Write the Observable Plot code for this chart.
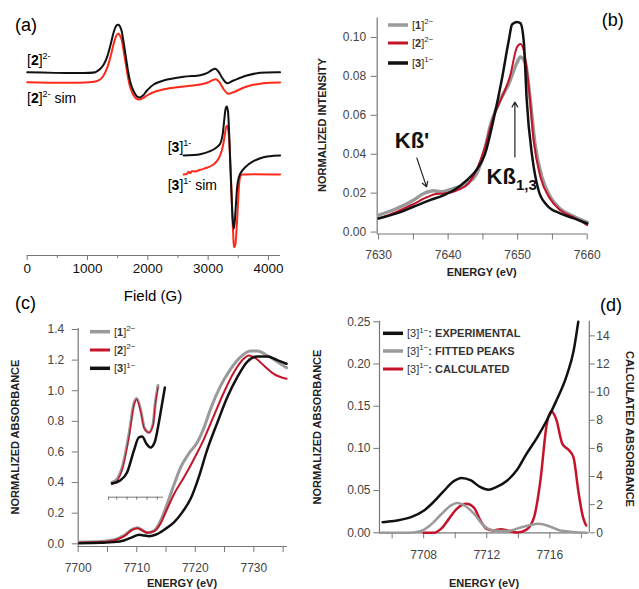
<!DOCTYPE html>
<html><head><meta charset="utf-8">
<script src="https://cdn.jsdelivr.net/npm/d3@7"></script>
<script src="https://cdn.jsdelivr.net/npm/@observablehq/plot@0.6"></script>
<style>
body{margin:0;background:#fff;}
#fig{position:relative;width:639px;height:589px;overflow:hidden;background:#fff;}
.panel{position:absolute;}
.panel svg{overflow:visible;}
</style></head><body><div id="fig"></div>
<script>
// ---------- (a) EPR ----------
const eprTicks = [0, 1000, 2000, 3000, 4000];
const eprMinor = [500, 1500, 2500, 3500];
const epr2Field = [0, 1131, 1159, 1214, 1269, 1324, 1379, 1434, 1479, 1517, 1556, 1589, 1628, 1666, 1710, 1765, 1821, 1865, 1920, 1986, 2096, 2262, 2593, 2869, 2979, 3050, 3117, 3170, 3240, 3310, 3420, 3641, 3862, 4193];
const epr2Exp = [183.3, 183.3, 184.3, 186.7, 191, 198.3, 210, 223.3, 230, 230.7, 226.7, 216.7, 201.7, 186.7, 173.3, 164.3, 159, 158, 160, 165, 171, 175, 178.7, 180.3, 182.3, 185, 186.7, 184, 177, 172.3, 175, 180, 182.7, 183.3];
const epr2SimField = [0, 1131, 1214, 1269, 1324, 1379, 1434, 1479, 1512, 1556, 1589, 1628, 1666, 1710, 1765, 1821, 1865, 1920, 1986, 2096, 2317, 2593, 2869, 3007, 3080, 3130, 3190, 3260, 3330, 3420, 3641, 3917, 4193];
const epr2Sim = [173.3, 174, 176.3, 180.3, 187.3, 198.3, 211.7, 220, 221.7, 217.7, 208.3, 194, 180, 167.7, 160, 156.3, 156, 157.3, 160, 163.3, 166.7, 169, 171, 173.3, 175.5, 176.3, 173, 166, 161.7, 163.3, 169, 172.3, 173];
const epr3Field = [2593, 2869, 3034, 3145, 3200, 3238, 3266, 3293, 3310, 3327, 3349, 3365, 3387, 3409, 3426, 3443, 3465, 3492, 3531, 3614, 3752, 3917, 4083, 4193];
const epr3Exp = [100, 101.3, 104.3, 108.3, 111.7, 120, 135, 147.3, 149, 145, 121.7, 95, 61.7, 35, 26.7, 35, 55, 73.3, 81.7, 88.3, 94.3, 98.3, 99.7, 100];
const epr3SimField = [2593, 2648, 2676, 2703, 2731, 2786, 2869, 2979, 3090, 3172, 3227, 3271, 3299, 3316, 3338, 3365, 3393, 3415, 3432, 3448, 3470, 3498, 3520, 3542, 3586, 4193];
const epr3Sim = [81, 81.7, 83.7, 82.3, 84.3, 84, 85.7, 87.7, 91, 96.7, 105, 118.3, 128.3, 129.7, 123.3, 98.3, 55, 21.7, 8.3, 10, 25, 55, 75, 80.3, 81, 81];
const eprLabelField = [5, 5, 2338, 2338];
const eprLabelSignal = [190, 152, 103, 65];

// ---------- (b) K-beta XES ----------
const kbTicks = [7630, 7635, 7640, 7645, 7650, 7655, 7660];
const kbYTicks = [0, 0.02, 0.04, 0.06, 0.08, 0.10];
const kbE1 = [7630, 7632.6, 7635, 7636.5, 7637.9, 7638.9, 7640.8, 7642.7, 7644.1, 7645.1, 7646.1, 7647.5, 7648.7, 7649.9, 7650.4, 7651.1, 7651.8, 7652.5, 7653.5, 7654.7, 7656.1, 7658.1, 7660];
const kb1 = [0.0087, 0.0121, 0.0164, 0.0198, 0.0212, 0.0207, 0.0224, 0.025, 0.030, 0.040, 0.055, 0.068, 0.076, 0.087, 0.090, 0.087, 0.068, 0.045, 0.028, 0.018, 0.012, 0.008, 0.005];
const kbE2 = [7630, 7632.6, 7635, 7637, 7638.2, 7639.4, 7641.3, 7643, 7644.1, 7645.3, 7646.5, 7647.7, 7648.9, 7649.9, 7650.4, 7650.9, 7651.6, 7652.3, 7653.3, 7654.5, 7656.1, 7658.1, 7660];
const kb2 = [0.007, 0.0104, 0.0144, 0.018, 0.0195, 0.0198, 0.0215, 0.0253, 0.032, 0.0438, 0.059, 0.069, 0.080, 0.095, 0.0966, 0.093, 0.0745, 0.047, 0.028, 0.018, 0.0113, 0.0075, 0.0036];
const kbE3 = [7630, 7632.6, 7635, 7637.4, 7639.4, 7640.8, 7642.7, 7644.1, 7645.3, 7646.5, 7647.7, 7648.7, 7649.2, 7649.9, 7650.4, 7650.9, 7651.3, 7652.1, 7653.0, 7654.2, 7656.1, 7658.1, 7660];
const kb3 = [0.007, 0.0096, 0.013, 0.0164, 0.019, 0.0215, 0.0267, 0.032, 0.040, 0.0574, 0.078, 0.098, 0.1067, 0.108, 0.1073, 0.097, 0.068, 0.0386, 0.0215, 0.0138, 0.0096, 0.007, 0.0044];
const kbArrowX1 = [7635.5, 7649.6], kbArrowY1 = [0.038, 0.0386];
const kbArrowX2 = [7636.9, 7649.6], kbArrowY2 = [0.0232, 0.0668];
const kbNoteX = [7632.4, 7645.6], kbNoteY = [0.0431, 0.0246];

// ---------- (c) XAS ----------
const xasTicks = [7700, 7705, 7710, 7715, 7720, 7725, 7730, 7735];
const xasYTicks = [0, 0.2, 0.4, 0.6, 0.8, 1.0, 1.2, 1.4];
const xasE1 = [7700.2, 7703.9, 7706.1, 7707.8, 7709.3, 7710.1, 7711, 7711.8, 7713, 7714.1, 7715.2, 7716.4, 7717.5, 7718.9, 7720.3, 7721.5, 7722.6, 7724.3, 7726.0, 7727.7, 7729.4, 7730.6, 7732.3, 7734, 7735.6];
const xas1 = [0.011, 0.015, 0.026, 0.054, 0.096, 0.105, 0.087, 0.072, 0.087, 0.153, 0.26, 0.39, 0.50, 0.59, 0.66, 0.76, 0.88, 1.03, 1.14, 1.22, 1.26, 1.26, 1.23, 1.19, 1.15];
const xasE2 = [7700.2, 7703.9, 7706.1, 7707.8, 7709.3, 7710.1, 7711, 7711.8, 7713, 7714.1, 7715.2, 7716.4, 7718.1, 7719.8, 7721.5, 7723.2, 7724.9, 7726.6, 7728.3, 7729.1, 7730, 7731.7, 7733.4, 7735.6];
const xas2 = [0.007, 0.011, 0.022, 0.048, 0.092, 0.102, 0.087, 0.072, 0.083, 0.135, 0.229, 0.327, 0.436, 0.556, 0.686, 0.839, 0.99, 1.12, 1.21, 1.23, 1.22, 1.165, 1.11, 1.078];
const xasE3 = [7700.2, 7703.9, 7706.1, 7707.8, 7709.3, 7710.4, 7711.3, 7712.1, 7713.2, 7714.7, 7716.4, 7717.8, 7719.2, 7720.6, 7722, 7723.8, 7725.5, 7727.2, 7728.9, 7730.6, 7732.3, 7734, 7735.6];
const xas3 = [0.004, 0.0065, 0.011, 0.022, 0.044, 0.059, 0.054, 0.050, 0.059, 0.092, 0.142, 0.207, 0.294, 0.436, 0.61, 0.795, 0.96, 1.09, 1.19, 1.224, 1.224, 1.20, 1.176];
// inset (pre-edge, magnified)
const insetTicks = [7706, 7707.2, 7708.7, 7710.1, 7711.6, 7713.1];
const insetE1 = [7706.5, 7707.3, 7708.0, 7709.0, 7709.7, 7710.1, 7710.7, 7711.2, 7711.9, 7712.5, 7712.8, 7713.2];
const inset1 = [0.016, 0.020, 0.031, 0.065, 0.095, 0.100, 0.088, 0.071, 0.066, 0.075, 0.095, 0.113];
const inset2 = [0.014, 0.018, 0.029, 0.062, 0.093, 0.099, 0.086, 0.070, 0.066, 0.074, 0.093, 0.111];
const insetE3 = [7706.5, 7707.7, 7708.7, 7709.7, 7710.4, 7710.9, 7711.5, 7712.1, 7712.7, 7713.3, 7713.8, 7714.2];
const inset3 = [0.015, 0.018, 0.026, 0.048, 0.061, 0.062, 0.055, 0.051, 0.056, 0.075, 0.095, 0.111];

// ---------- (d) pre-edge fit ----------
const dTicks = [7706, 7708, 7710, 7712, 7714, 7716, 7718];
const dTickLabels = [7708, 7712, 7716];
const dYTicks = [0, 0.05, 0.10, 0.15, 0.20, 0.25];
const dRightTicks = [0, 2, 4, 6, 8, 10, 12, 14];
const dRightRatio = 60; // right axis units per left axis unit
const expE = [7705.4, 7706.3, 7707.2, 7708, 7708.6, 7709.3, 7709.9, 7710.4, 7711.0, 7711.6, 7712.1, 7712.6, 7713.3, 7713.9, 7714.5, 7715.2, 7715.8, 7716.4, 7717.1, 7717.5, 7717.8];
const expAbs = [0.0126, 0.0146, 0.0185, 0.026, 0.036, 0.050, 0.061, 0.065, 0.062, 0.054, 0.051, 0.054, 0.062, 0.074, 0.093, 0.113, 0.133, 0.156, 0.188, 0.215, 0.25];
const fitE = [7705.2, 7707.0, 7707.8, 7708.4, 7709.1, 7709.7, 7710.1, 7710.5, 7711.2, 7711.8, 7712.4, 7713.3, 7714.1, 7714.8, 7715.3, 7716.0, 7716.6, 7717.5, 7718.3];
const fitAbs = [0, 0, 0.002, 0.0087, 0.0217, 0.032, 0.0354, 0.0335, 0.0224, 0.0087, 0.003, 0.002, 0.006, 0.0094, 0.0106, 0.0075, 0.003, 0.001, 0];
const calcE = [7708.0, 7708.6, 7709.1, 7709.6, 7710.1, 7710.7, 7711.2, 7711.6, 7712.0, 7712.4, 7712.9, 7713.3, 7713.9, 7714.5, 7715.0, 7715.4, 7715.8, 7716.1, 7716.4, 7716.8, 7717.2, 7717.5, 7717.8, 7718.1, 7718.3];
const calcAbs = [0, 0, 0.28, 0.99, 1.70, 2.06, 1.77, 0.87, 0.28, 0.17, 0.26, 0.17, 0.02, 0.21, 1.11, 3.71, 7.7, 8.62, 8.08, 6.3, 5.88, 5.36, 3.0, 1.11, 0.52];

// ---------- helpers ----------
const FONT = "'Liberation Sans', Arial, Helvetica, sans-serif";
const GRAY = "#9a9a9a", RED = "#c3142a", BLACK = "#111", EPRRED = "#ff2a1a";
const zip = (xs, ys) => xs.map((x, i) => ({x, y: ys[i]}));
const STYLE = `background:transparent;overflow:visible;font-family:${FONT};`;
const fig = document.getElementById("fig");
function mount(svg, left, top, w, h) {
  const d = document.createElement("div");
  d.className = "panel";
  Object.assign(d.style, {left: left + "px", top: top + "px", width: w + "px", height: h + "px"});
  d.appendChild(svg); fig.appendChild(d);
}
function label(svg, x, y, parts, o = {}) {
  const size = o.size || 11;
  const t = d3.select(svg).append("text")
    .attr("transform", `translate(${x},${y})` + (o.rotate ? ` rotate(${o.rotate})` : ""))
    .attr("font-family", FONT).attr("font-size", size)
    .attr("font-weight", o.weight || "normal")
    .attr("fill", o.fill || "#000")
    .attr("text-anchor", o.anchor || "start");
  let shift = 0;
  for (const p of parts) {
    const q = typeof p === "string" ? {t: p} : p;
    const s = t.append("tspan").text(q.t);
    const target = q.sup ? -size * 0.42 : q.sub ? size * 0.28 : 0;
    if (target !== shift) { s.attr("dy", target - shift); shift = target; }
    if (q.sup || q.sub) s.attr("font-size", q.size || Math.round(size * 0.68));
    if (q.b) s.attr("font-weight", "bold");
    if (q.n) s.attr("font-weight", "normal");
  }
  return t;
}
function legend(svg, x, ys, items, o) {
  items.forEach((it, i) => {
    d3.select(svg).append("line").attr("x1", x).attr("x2", x + 20)
      .attr("y1", ys[i]).attr("y2", ys[i]).attr("stroke", it.color).attr("stroke-width", it.w || 3);
    label(svg, x + 24, ys[i] + 4, it.parts, o);
  });
}
const line = (xs, ys, stroke, w, curve = "monotone-x") =>
  Plot.line(zip(xs, ys), {x: "x", y: "y", stroke, strokeWidth: w, curve});

// ---------- panel (a) ----------
const pa = Plot.plot({
  width: 310, height: 305, marginLeft: 26.7, marginRight: 30, marginTop: 0, marginBottom: 50,
  style: STYLE,
  x: {domain: [0, 4200]},
  y: {domain: [0, 255], axis: null},
  marks: [
    Plot.ruleY([0], {stroke: "#777", strokeWidth: 1.2}),
    Plot.axisX(eprMinor, {tickSize: 3, tickFormat: () => "", label: null, stroke: "#777"}),
    Plot.axisX(eprTicks, {tickSize: 5, tickPadding: 3, fontSize: 13.5, label: null, stroke: "#777", fill: "#111", tickFormat: d => String(d)}),
    line(epr2SimField, epr2Sim, EPRRED, 2, "catmull-rom"),
    line(epr2Field, epr2Exp, BLACK, 2, "catmull-rom"),
    line(epr3SimField, epr3Sim, EPRRED, 2, "catmull-rom"),
    line(epr3Field, epr3Exp, BLACK, 2, "catmull-rom")
  ]
});
mount(pa, 0, 0, 310, 305);
{
  const sx = pa.scale("x"), sy = pa.scale("y");
  const P = i => [sx.apply(eprLabelField[i]), sy.apply(eprLabelSignal[i])];
  label(pa, ...P(0), ["[", {t: "2", b: true}, "]", {t: "2-", sup: true, size: 9}], {size: 14});
  label(pa, ...P(1), ["[", {t: "2", b: true}, "]", {t: "2-", sup: true, size: 9}, {t: " sim"}], {size: 14});
  label(pa, ...P(2), ["[", {t: "3", b: true}, "]", {t: "1-", sup: true, size: 9}], {size: 14});
  label(pa, ...P(3), ["[", {t: "3", b: true}, "]", {t: "1-", sup: true, size: 9}, {t: " sim"}], {size: 14});
  label(pa, 153, 301, ["Field (G)"], {size: 15, anchor: "middle"});
  label(pa, 15, 31, ["(a)"], {size: 18});
}

// ---------- panel (b) ----------
const pb = Plot.plot({
  width: 329, height: 290, marginLeft: 66.7, marginRight: 52.3, marginTop: 17.5, marginBottom: 56.5,
  style: STYLE,
  x: {domain: [7629.8, 7660]},
  y: {domain: [-0.001, 0.11]},
  marks: [
    Plot.ruleX([7629.8], {stroke: "#777", strokeWidth: 1.2}),
    Plot.ruleY([-0.001], {stroke: "#777", strokeWidth: 1.2}),
    Plot.axisX(kbTicks, {tickSize: 6, tickPadding: 10, fontSize: 12, label: null, stroke: "#777", fill: "#444",
      tickFormat: d => d % 10 === 0 ? String(d) : ""}),
    Plot.axisY(kbYTicks, {tickSize: 6, tickPadding: 5, fontSize: 12, label: null, stroke: "#777", fill: "#444", tickFormat: d3.format(".2f")}),
    line(kbE1, kb1, GRAY, 3.5),
    line(kbE2, kb2, RED, 2),
    line(kbE3, kb3, BLACK, 2.5),
    Plot.arrow(kbArrowX1.map((x, i) => ({x1: x, y1: kbArrowY1[i], x2: kbArrowX2[i], y2: kbArrowY2[i]})),
      {x1: "x1", y1: "y1", x2: "x2", y2: "y2", stroke: "#222", strokeWidth: 1.2, headLength: 7})
  ]
});
mount(pb, 310, 0, 329, 290);
{
  const sx = pb.scale("x"), sy = pb.scale("y");
  legend(pb, 78, [25, 43, 63], [
    {color: GRAY, w: 3.5, parts: ["[", {t: "1", b: true}, "]", {t: "2−", sup: true, size: 8}]},
    {color: RED, w: 3, parts: ["[", {t: "2", b: true}, "]", {t: "2−", sup: true, size: 8}]},
    {color: BLACK, w: 3.5, parts: ["[", {t: "3", b: true}, "]", {t: "1−", sup: true, size: 8}]}
  ], {size: 11, fill: "#333"});
  label(pb, sx.apply(kbNoteX[0]), sy.apply(kbNoteY[0]), ["Kß'"], {size: 22, weight: "bold", fill: "#111"});
  label(pb, sx.apply(kbNoteX[1]), sy.apply(kbNoteY[1]), ["Kß", {t: "1,3", sub: true, size: 15}], {size: 22, weight: "bold", fill: "#111"});
  label(pb, 171.7, 276, ["ENERGY (eV)"], {size: 11, weight: "bold", anchor: "middle", fill: "#222"});
  label(pb, 16, 125, ["NORMALIZED INTENSITY"], {size: 11, weight: "bold", anchor: "middle", rotate: -90, fill: "#222"});
  label(pb, 291.7, 26, ["(b)"], {size: 18});
}

// ---------- panel (c) ----------
const pc = Plot.plot({
  width: 310, height: 299, marginLeft: 77.7, marginRight: 23.3, marginTop: 38, marginBottom: 43,
  style: STYLE,
  x: {domain: [7700, 7735.7]},
  y: {domain: [-0.0176, 1.4065]},
  marks: [
    Plot.ruleX([7700], {stroke: "#777", strokeWidth: 1.2}),
    Plot.ruleY([-0.0176], {stroke: "#777", strokeWidth: 1.2}),
    Plot.axisX(xasTicks, {tickSize: 6, tickPadding: 11, fontSize: 12, label: null, stroke: "#777", fill: "#444",
      tickFormat: d => d % 10 === 0 ? String(d) : ""}),
    Plot.axisY(xasYTicks, {tickSize: 6, tickPadding: 8, fontSize: 12, label: null, stroke: "#777", fill: "#444", tickFormat: d3.format(".1f")}),
    line(xasE1, xas1, GRAY, 3),
    line(xasE2, xas2, RED, 2),
    line(xasE3, xas3, BLACK, 2.5)
  ]
});
mount(pc, 0, 290, 310, 299);
{
  legend(pc, 90, [41.7, 60, 78.3], [
    {color: GRAY, w: 3.5, parts: ["[", {t: "1", b: true}, "]", {t: "2−", sup: true, size: 8}]},
    {color: RED, w: 3, parts: ["[", {t: "2", b: true}, "]", {t: "2−", sup: true, size: 8}]},
    {color: BLACK, w: 3.5, parts: ["[", {t: "3", b: true}, "]", {t: "1−", sup: true, size: 8}]}
  ], {size: 11, fill: "#333"});
  label(pc, 182, 297, ["ENERGY (eV)"], {size: 11, weight: "bold", anchor: "middle", fill: "#222"});
  label(pc, 19, 147, ["NORMALIZED ABSORBANCE"], {size: 11, weight: "bold", anchor: "middle", rotate: -90, fill: "#222"});
  label(pc, 15, 19, ["(c)"], {size: 18});
}
// inset
const pci = Plot.plot({
  width: 310, height: 299, marginLeft: 108, marginRight: 147, marginTop: 78.7, marginBottom: 92.3,
  style: STYLE,
  x: {domain: [7706, 7714]},
  y: {domain: [0.0013, 0.1293], axis: null},
  marks: [
    Plot.ruleY([0.0013], {stroke: "#777", strokeWidth: 1}),
    Plot.axisX(insetTicks, {tickSize: 3, tickFormat: () => "", label: null, stroke: "#777"}),
    line(insetE1, inset1, GRAY, 3),
    line(insetE1, inset2, RED, 1.3),
    line(insetE3, inset3, BLACK, 2.5)
  ]
});
mount(pci, 0, 290, 310, 299);

// ---------- panel (d) ----------
const pd = Plot.plot({
  width: 334, height: 299, marginLeft: 74, marginRight: 50.2, marginTop: 30.7, marginBottom: 56.7,
  style: STYLE,
  x: {domain: [7705.2, 7718.5]},
  y: {domain: [0, 0.2507]},
  marks: [
    Plot.ruleX([7705.2, 7718.5], {stroke: "#777", strokeWidth: 1.2}),
    Plot.ruleY([0], {stroke: "#777", strokeWidth: 1.2}),
    Plot.axisX(dTicks, {tickSize: 6, tickPadding: 12, fontSize: 12, label: null, stroke: "#777", fill: "#444",
      tickFormat: d => dTickLabels.includes(d) ? String(d) : ""}),
    Plot.axisY(dYTicks, {tickSize: 5.7, tickPadding: 3.3, fontSize: 12, label: null, stroke: "#777", fill: "#444", tickFormat: d3.format(".2f")}),
    Plot.axisY(dRightTicks.map(v => v / dRightRatio), {anchor: "right", tickSize: 5, tickPadding: 2, fontSize: 12, label: null,
      stroke: "#777", fill: "#444", tickFormat: d => String(Math.round(d * dRightRatio))}),
    line(calcE, calcAbs.map(v => v / dRightRatio), RED, 2.5),
    line(fitE, fitAbs, GRAY, 2.5),
    line(expE, expAbs, BLACK, 2.5)
  ]
});
mount(pd, 305, 290, 334, 299);
{
  legend(pd, 78, [43.3, 61, 79], [
    {color: BLACK, w: 3.5, parts: ["[3]", {t: "1−", sup: true, size: 8}, {t: ": EXPERIMENTAL", b: true}]},
    {color: GRAY, w: 3.5, parts: ["[3]", {t: "1−", sup: true, size: 8}, {t: ": FITTED PEAKS", b: true}]},
    {color: RED, w: 3, parts: ["[3]", {t: "1−", sup: true, size: 8}, {t: ": CALCULATED", b: true}]}
  ], {size: 11, fill: "#333"});
  label(pd, 179, 297, ["ENERGY (eV)"], {size: 11, weight: "bold", anchor: "middle", fill: "#222"});
  label(pd, 16, 137, ["NORMALIZED ABSORBANCE"], {size: 11, weight: "bold", anchor: "middle", rotate: -90, fill: "#222"});
  label(pd, 321, 139, ["CALCULATED ABSORBANCE"], {size: 11, weight: "bold", anchor: "middle", rotate: 90, fill: "#222"});
  label(pd, 295, 21, ["(d)"], {size: 18});
}
</script></body></html>
